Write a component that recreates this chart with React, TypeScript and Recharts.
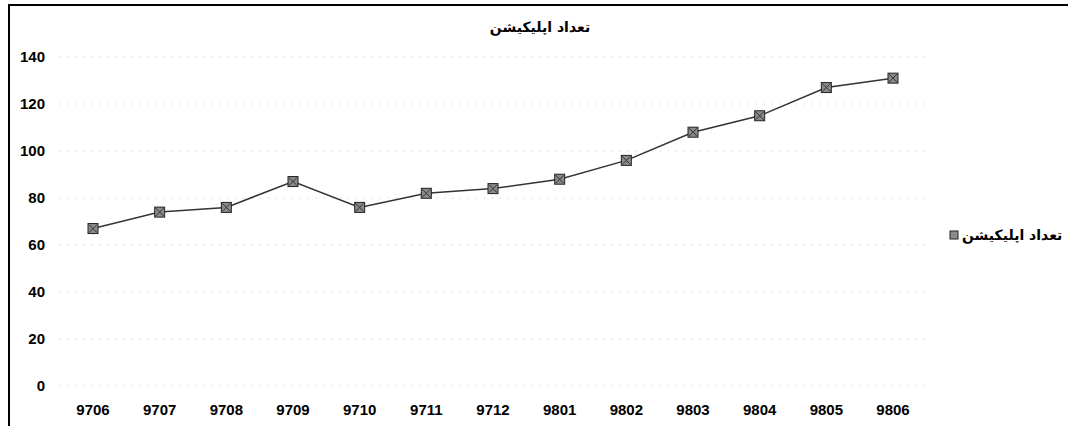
import { CartesianGrid, Line, LineChart, XAxis, YAxis } from "recharts";

const MONTHS = ["9706", "9707", "9708", "9709", "9710", "9711", "9712", "9801", "9802", "9803", "9804", "9805", "9806"];
const APP_COUNTS = [67, 74, 76, 87, 76, 82, 84, 88, 96, 108, 115, 127, 131];
const Y_TICKS = [0, 20, 40, 60, 80, 100, 120, 140];

const SERIES_NAME = "تعداد اپلیکیشن";
const PERSIAN_FONT = '"DejaVu Sans", sans-serif';
const TICK_STYLE = { fill: "#000", fontSize: 15, fontWeight: 700, fontFamily: '"Liberation Sans", Arial, sans-serif' };

const data = MONTHS.map((month, i) => ({ month, count: APP_COUNTS[i] }));

function SquareDot(props: { cx?: number; cy?: number }) {
  const { cx, cy } = props;
  if (cx == null || cy == null) return null;
  return (
    <g>
      <rect x={cx - 5} y={cy - 5} width={10} height={10} fill="#8a8a8a" stroke="#222" strokeWidth={1} />
      <path d={`M${cx - 4} ${cy - 4}L${cx + 4} ${cy + 4}M${cx + 4} ${cy - 4}L${cx - 4} ${cy + 4}`} stroke="#333" strokeWidth={1} />
    </g>
  );
}

function SeriesLegend() {
  return (
    <div
      style={{
        position: "absolute",
        left: 949,
        top: 227,
        display: "flex",
        alignItems: "center",
        gap: 3,
        fontFamily: PERSIAN_FONT,
        fontWeight: 700,
        fontSize: 14,
        color: "#000",
        whiteSpace: "nowrap",
      }}
    >
      <svg width={10} height={10}>
        <rect x={1} y={1} width={8} height={8} fill="#8a8a8a" stroke="#222" strokeWidth={1} />
      </svg>
      <span dir="rtl">{SERIES_NAME}</span>
    </div>
  );
}

export default function App() {
  return (
    <div style={{ position: "absolute", left: 0, top: 0, width: 1068, height: 426, background: "#fff" }}>
      <LineChart
        width={1068}
        height={426}
        data={data}
        margin={{ top: 57, right: 142, bottom: 10, left: 0 }}
        style={{ position: "absolute", left: 0, top: 0 }}
      >
        <CartesianGrid vertical={false} stroke="#c4c4c4" strokeDasharray="1 7" />
        <XAxis
          dataKey="month"
          height={30}
          padding={{ left: 33, right: 33 }}
          axisLine={false}
          tickLine={false}
          tickMargin={12}
          tick={TICK_STYLE}
          interval={0}
        />
        <YAxis
          width={60}
          domain={[0, 140]}
          ticks={Y_TICKS}
          axisLine={false}
          tickLine={false}
          tickMargin={9}
          tick={TICK_STYLE}
        />
        <Line
          type="linear"
          dataKey="count"
          name={SERIES_NAME}
          stroke="#333"
          strokeWidth={1.5}
          dot={<SquareDot />}
          isAnimationActive={false}
        />
      </LineChart>
      <div style={{ position: "absolute", left: 8, top: 4, width: 2, height: 422, background: "#000" }} />
      <div style={{ position: "absolute", left: 8, top: 4, width: 1060, height: 2, background: "#000" }} />
      <div
        dir="rtl"
        style={{
          position: "absolute",
          left: 440,
          width: 200,
          top: 19,
          textAlign: "center",
          fontFamily: PERSIAN_FONT,
          fontWeight: 700,
          fontSize: 14,
          color: "#000",
        }}
      >
        {SERIES_NAME}
      </div>
      <SeriesLegend />
    </div>
  );
}
